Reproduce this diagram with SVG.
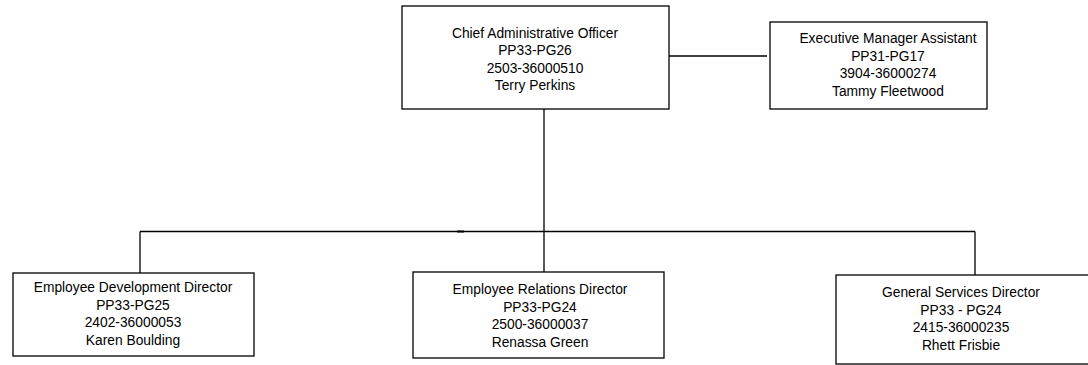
<svg xmlns="http://www.w3.org/2000/svg" width="1088" height="365" viewBox="0 0 1088 365">
<style>
.box{fill:#fff;stroke:#000;stroke-width:1.3}
.conn line{stroke:#000;stroke-width:1.3}
text{font-family:"Liberation Sans",Arial,sans-serif;font-size:13.8px;fill:#000;text-anchor:middle}
</style>
<rect width="1088" height="365" fill="#fff"/>
<g id="connectors" class="conn">
<line x1="669" y1="56" x2="767" y2="56"/>
<line x1="544" y1="109" x2="544" y2="272"/>
<line x1="140" y1="231.5" x2="975" y2="231.5"/>
<line x1="140" y1="231.5" x2="140" y2="273"/>
<line x1="975" y1="231.5" x2="975" y2="275"/>
<line x1="457" y1="231.5" x2="464" y2="231.5" style="stroke-width:2"/>
<line x1="771.5" y1="64.5" x2="772.5" y2="65.5" style="stroke-width:1"/>
</g>
<g id="cao">
<rect class="box" x="402" y="6" width="267" height="103"/>
<text x="535" y="37.5">Chief Administrative Officer</text>
<text x="535" y="55">PP33-PG26</text>
<text x="535" y="72.5">2503-36000510</text>
<text x="535" y="90">Terry Perkins</text>
</g>
<g id="exec">
<rect class="box" x="770" y="22" width="217" height="87"/>
<text x="888" y="43">Executive Manager Assistant</text>
<text x="888" y="60.5">PP31-PG17</text>
<text x="888" y="78">3904-36000274</text>
<text x="888" y="95.5">Tammy Fleetwood</text>
</g>
<g id="ed">
<rect class="box" x="13" y="273" width="241" height="83"/>
<text x="133" y="292">Employee Development Director</text>
<text x="133" y="309.5">PP33-PG25</text>
<text x="133" y="327">2402-36000053</text>
<text x="133" y="344.5">Karen Boulding</text>
</g>
<g id="er">
<rect class="box" x="413" y="272" width="251" height="86"/>
<text x="540" y="294">Employee Relations Director</text>
<text x="540" y="311.5">PP33-PG24</text>
<text x="540" y="329">2500-36000037</text>
<text x="540" y="346.5">Renassa Green</text>
</g>
<g id="gs">
<rect class="box" x="836" y="275" width="254" height="89"/>
<text x="961" y="297">General Services Director</text>
<text x="961" y="314.5">PP33 - PG24</text>
<text x="961" y="332">2415-36000235</text>
<text x="961" y="349.5">Rhett Frisbie</text>
</g>
</svg>
